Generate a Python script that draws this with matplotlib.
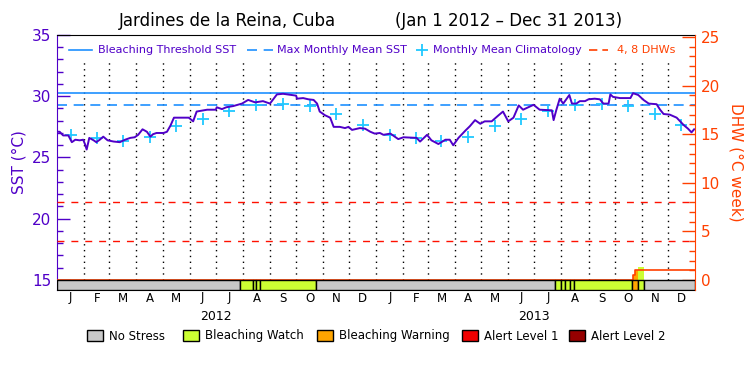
import numpy as np
import pandas as pd
import matplotlib
matplotlib.use("Agg")
import matplotlib.pyplot as plt
from matplotlib.patches import Rectangle
from matplotlib.lines import Line2D

# --------------------
# data (days counted from Jan 1 2012)
# --------------------

sst_days = [0, 3, 7, 13, 17, 21, 26, 30, 32, 34, 37, 42, 45, 49, 53, 58, 65, 72, 78, 84,
            89, 93, 98, 103, 107, 110, 114, 122, 126, 130, 134, 151, 156, 160, 172, 182,
            183, 189, 194, 202, 212, 219, 223, 227, 236, 244, 252, 259, 274, 275, 282,
            288, 294, 298, 301, 307, 313, 317, 324, 330, 334, 338, 347, 353, 359, 364,
            370, 374, 382, 384, 391, 397, 412, 416, 424, 429, 437, 445, 450, 454, 460,
            468, 473, 479, 485, 490, 498, 506, 511, 517, 523, 529, 534, 546, 553, 567,
            569, 572, 576, 580, 587, 590, 595, 599, 605, 609, 616, 622, 626, 632, 634,
            637, 645, 657, 660, 666, 672, 678, 687, 691, 695, 702, 710, 714, 718, 723,
            727, 730]
sst_vals = [27.1, 27.1, 26.8, 26.8, 26.25, 26.45, 26.4, 26.45, 26.1, 25.65, 26.6, 26.4,
            26.25, 26.45, 26.7, 26.4, 26.3, 26.25, 26.45, 26.6, 26.65, 26.85, 27.3, 27.1,
            26.7, 26.9, 27.0, 27.0, 27.1, 27.6, 28.25, 28.25, 27.95, 28.75, 28.9, 28.9,
            29.1, 28.95, 29.1, 29.2, 29.4, 29.7, 29.6, 29.5, 29.6, 29.4, 30.15, 30.2,
            30.05, 29.8, 29.85, 29.75, 29.7, 29.4, 28.75, 28.45, 28.25, 27.5, 27.5, 27.4,
            27.5, 27.25, 27.4, 27.35, 27.1, 26.95, 27.0, 26.85, 26.95, 26.85, 26.5, 26.65,
            26.6, 26.3, 26.85, 26.4, 26.1, 26.45, 26.45, 26.0, 26.6, 27.2, 27.55, 28.05,
            27.75, 27.95, 27.95, 28.45, 28.75, 27.95, 28.25, 29.25, 28.9, 29.3, 28.9,
            28.85, 28.05, 28.85, 29.8, 29.4, 30.1, 29.4, 29.4, 29.6, 29.6, 29.75, 29.8,
            29.75, 29.4, 29.4, 30.15, 29.95, 29.85, 29.85, 30.25, 30.1, 29.7, 29.4, 29.35,
            28.9, 28.55, 28.5, 28.25, 27.95, 27.65, 27.35, 27.05, 27.3]

clim_vals = [26.8, 26.55, 26.33, 26.68, 27.53, 28.11, 28.77, 29.26, 29.4, 29.2, 28.55, 27.65]
mmm = 29.3
threshold = 30.3

dhw_days = [0, 659.5, 662.3, 731]
dhw_vals = [0.0, 0.5, 1.0, 1.0]

status_start = [0, 210, 224, 228, 233, 297, 571, 578, 582, 588, 592, 659, 666, 673]
status_end = [210, 224, 228, 233, 297, 571, 578, 582, 588, 592, 659, 666, 673, 731]
status_level = [0, 1, 1, 1, 1, 0, 1, 1, 1, 1, 1, 2, 1, 0]

status_names = ["No Stress", "Bleaching Watch", "Bleaching Warning", "Alert Level 1", "Alert Level 2"]
status_colors = ["#C8C8C8", "#CCFF33", "#FFA500", "#F00000", "#960000"]

month_letters = list("JFMAMJJASOND") * 2
years = ["2012", "2013"]

purple = "#5000C8"
dhw_red = "#FF4000"
blue = "#1E90FF"
cyan = "#20C8FF"

W, H = 750, 375


def fx(px):
    return px / W


def fy(py):
    return 1 - py / H


start = pd.Timestamp("2012-01-01")
month_starts = pd.date_range("2012-01-01", "2014-01-01", freq="MS")
mdays = np.array([(m - start).days for m in month_starts])
mid_days = (mdays[:-1] + mdays[1:]) / 2

# --------------------
# figure
# --------------------

fig = plt.figure(figsize=(7.5, 3.75), dpi=100)
ax = fig.add_axes([fx(57), fy(290), (695 - 57) / W, (290 - 35) / H])
ax.set_xlim(0, 731)
ax.set_ylim(14.18, 35)

# month separators
for d in mdays[1:-1]:
    ax.axvline(d, ymin=0.039, ymax=0.894, color="black", lw=1.0,
               linestyle=(0, (1, 3.2)), zorder=1)

ax.axhline(threshold, color=blue, lw=1.2, zorder=2)
ax.axhline(mmm, color=blue, lw=1.2, linestyle=(0, (6, 4)), zorder=2)
ax.plot(mid_days, clim_vals * 2, linestyle="none", marker="+", ms=9, mew=1.3,
        color=cyan, zorder=3)
ax.plot(sst_days, sst_vals, color=purple, lw=1.4, zorder=4)

ax.set_xticks([])
ax.set_yticks([15, 20, 25, 30, 35])
ax.set_yticks(np.arange(15, 36, 1), minor=True)
ax.tick_params(axis="y", which="major", direction="in", length=9.5, width=1,
               colors=purple, labelsize=11, pad=4)
ax.tick_params(axis="y", which="minor", direction="in", length=4.5, width=1, colors=purple)
ax.set_ylabel("SST (°C)", color=purple, fontsize=11, labelpad=4)
ax.spines["left"].set_color(purple)
ax.spines["right"].set_visible(False)

ax2 = ax.twinx()
ax2.set_ylim(-1.03, 25.2)
ax2.axhline(4, color="#FF1000", lw=1.0, linestyle=(0, (5, 5)))
ax2.axhline(8, color="#FF1000", lw=1.0, linestyle=(0, (5, 5)))

# DHW area coloured by status
ax2.fill_between([659.5, 662.3], 0, 0.5, color=status_colors[2], lw=0)
ax2.fill_between([662.3, 666], 0, 1.0, color=status_colors[2], lw=0)
ax2.fill_between([666, 672.5], 0, 1.35, color=status_colors[1], lw=0)
ax2.plot(dhw_days, dhw_vals, drawstyle="steps-post", color=dhw_red, lw=1.2)

# status bar
bar_h = 10 / 255
trans = ax2.get_xaxis_transform()
for s, e, lev in zip(status_start, status_end, status_level):
    ax2.add_patch(Rectangle((s, 0), e - s, bar_h, transform=trans,
                            facecolor=status_colors[lev], edgecolor="black", lw=1, zorder=5))

ax2.set_yticks([0, 5, 10, 15, 20, 25])
ax2.set_yticks(np.arange(0, 26, 1), minor=True)
ax2.tick_params(axis="y", which="major", direction="in", length=9.5, width=1,
                colors=dhw_red, labelsize=11, pad=4)
ax2.tick_params(axis="y", which="minor", direction="in", length=4.5, width=1, colors=dhw_red)
ax2.set_ylabel("DHW (°C week)", color=dhw_red, fontsize=11, rotation=-90,
               va="bottom", labelpad=6)
ax2.spines["right"].set_color(dhw_red)
for side in ["left", "top", "bottom"]:
    ax2.spines[side].set_visible(False)

# month and year labels
for d, m in zip(mid_days, month_letters):
    fig.text(fx(57 + d * 638 / 731), fy(298), m, ha="center", va="center", fontsize=8.5)
for i, y in enumerate(years):
    d = mdays[6 + 12 * i]
    fig.text(fx(57 + d * 638 / 731), fy(316), y, ha="center", va="center", fontsize=9)

# title
fig.text(fx(227), fy(21), "Jardines de la Reina, Cuba", ha="center", va="center", fontsize=12)
fig.text(fx(509), fy(21), "(Jan 1 2012 – Dec 31 2013)", ha="center", va="center", fontsize=12)

# top legend
fig.add_artist(Line2D([fx(69), fx(92)], [fy(50), fy(50)], color=blue, lw=1.2))
fig.text(fx(98), fy(50), "Bleaching Threshold SST", color=purple, fontsize=8, va="center")
fig.add_artist(Line2D([fx(247), fx(273)], [fy(50), fy(50)], color=blue, lw=1.2,
                      linestyle=(0, (6, 4))))
fig.text(fx(277), fy(50), "Max Monthly Mean SST", color=purple, fontsize=8, va="center")
fig.add_artist(Line2D([fx(421.5)], [fy(50)], color=cyan, marker="+", ms=9, mew=1.3,
                      linestyle="none"))
fig.text(fx(433), fy(50), "Monthly Mean Climatology", color=purple, fontsize=8, va="center")
fig.add_artist(Line2D([fx(589), fx(608)], [fy(50), fy(50)], color=dhw_red, lw=1.2,
                      linestyle=(0, (5, 3))))
fig.text(fx(617), fy(50), "4, 8 DHWs", color=dhw_red, fontsize=8, va="center")

# bottom legend
box_x = [87, 183, 317, 462, 569]
for bx, name, col in zip(box_x, status_names, status_colors):
    fig.add_artist(Rectangle((fx(bx), fy(341)), 16 / W, 11 / H, transform=fig.transFigure,
                             facecolor=col, edgecolor="black", lw=1))
    fig.text(fx(bx + 22), fy(336), name, fontsize=8.5, va="center")

fig.savefig("out.png", dpi=100)
